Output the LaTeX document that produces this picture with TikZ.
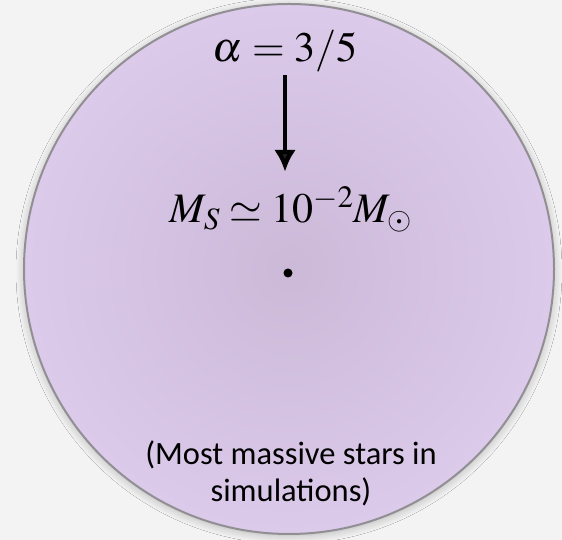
\documentclass[tikz,border=0pt]{standalone}
\usepackage{mathptmx}
\usepackage{fontspec}
\newfontfamily\calibri{Carlito}
\usetikzlibrary{arrows.meta,shadows.blur}

\definecolor{paper}{RGB}{243,243,243}
\definecolor{lilacin}{RGB}{204,185,216}
\definecolor{lilacout}{RGB}{220,202,235}
\definecolor{rim}{RGB}{145,143,147}

\tikzstyle{formula} = [inner sep=2pt, text height=30pt, text depth=0pt, font=\fontsize{42}{48}\selectfont]
\tikzstyle{note} = [align=center, inner sep=0pt, font=\calibri\fontsize{32.5}{37}\selectfont]
\tikzstyle{core} = [circle, fill=black, inner sep=0pt, minimum size=9pt]

\begin{document}
\begin{tikzpicture}[x=1pt, y=1pt]
\useasboundingbox (0,0) rectangle (562,540);
\fill[paper] (0,0) rectangle (562,540);
% the cloud
\path[blur shadow={shadow xshift=0pt, shadow yshift=-2pt, shadow blur steps=8, shadow blur radius=8pt, shadow opacity=25},
      inner color=lilacin, outer color=lilacout, draw=rim, line width=2pt]
    (289,271) circle (265);

\node[formula, anchor=base] (alpha) at (285,478) {$\alpha = 3/5$};
\node[formula, anchor=base] (mass) at (291,317) {$M_S \simeq 10^{-2} M_\odot$};
\node[core] (centre) at (288,267) {};
\node[note, anchor=base] (caption) at (291,38) {(Most massive stars in\\simulations)};

\draw[line width=4.5pt, -{Latex[length=22pt, width=22pt]}, shorten <=11pt, shorten >=19pt]
    (alpha.south) -- (alpha.south |- mass.north);
\end{tikzpicture}
\end{document}
